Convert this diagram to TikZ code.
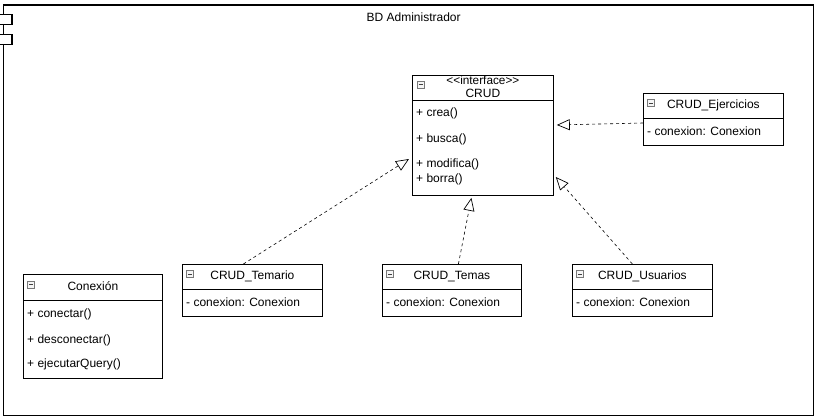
\documentclass[tikz,border=0pt]{standalone}
\usepackage{fontspec}
\setmainfont{Liberation Sans}
\usetikzlibrary{arrows.meta,positioning,calc}
\definecolor{iconogris}{RGB}{120,120,120}

\begin{document}
\begin{tikzpicture}[x=1pt,y=-1pt,
    font=\fontsize{12}{14}\selectfont,
    clase/.style={draw,line width=0.8pt,fill=white,anchor=north west,inner sep=0pt},
    icono/.style={draw=iconogris,line width=0.5pt,fill=black!4,minimum size=7pt,inner sep=0pt,
      path picture={\draw[black!75,line width=1pt]
        ([xshift=1.5pt]path picture bounding box.west) --
        ([xshift=-1.5pt]path picture bounding box.east);}},
    miembro/.style={anchor=west,inner sep=0pt},
    realiza/.style={draw,line width=0.6pt,dash pattern=on 3pt off 3pt,
      -{Triangle[open,length=13pt,width=11pt,line width=0.7pt,fill=white]}}]
  \useasboundingbox[fill=white] (0,0) rectangle (816,420);

  % Componente
  \node[draw,line width=1.2pt,minimum width=810pt,minimum height=410pt,
    anchor=north west,inner sep=0pt] (bd) at (3,4.5) {};
  \draw[line width=1.2pt,fill=white] (-1,14.5) rectangle (12,24.5);
  \draw[line width=1.2pt,fill=white] (-1,34.5) rectangle (12,44.5);
  \node (titulo) at ($(bd.north)+(5,12.5)$) {BD Administrador};

  % Interfaz CRUD
  \node[clase,minimum width=141pt,minimum height=120pt] (crud) at (412,75) {};
  \draw[line width=0.8pt] ($(crud.north west)+(0,25)$) -- ($(crud.north east)+(0,25)$);
  \node[icono] (icCrud) at ($(crud.north west)+(8.5,9.5)$) {};
  \node[inner sep=0pt,font=\fontsize{11.8}{12}\selectfont] (crudEst) at ($(crud.north)+(0,5.5)$)
    {<\kern0pt<interface>\kern0pt>};
  \node[inner sep=0pt] (crudNom) at ($(crud.north)+(0,18)$) {CRUD};
  \node[miembro] (crudCrea) at ($(crud.north west)+(4,38)$) {+ crea()};
  \node[miembro] (crudBusca) at ($(crud.north west)+(4,64)$) {+ busca()};
  \node[miembro] (crudModif) at ($(crud.north west)+(4,89)$) {+ modifica()};
  \node[miembro] (crudBorra) at ($(crud.north west)+(4,104)$) {+ borra()};

  % Clase Conexion
  \node[clase,minimum width=139pt,minimum height=104pt] (conex) at (23,274) {};
  \draw[line width=0.8pt] ($(conex.north west)+(0,26)$) -- ($(conex.north east)+(0,26)$);
  \node[icono] (icConex) at ($(conex.north west)+(8,10.5)$) {};
  \node[inner sep=0pt] (conexNom) at ($(conex.north)+(0,12.5)$) {Conexión};
  \node[miembro] (conexCon) at ($(conex.north west)+(4,40)$) {+ conectar()};
  \node[miembro] (conexDes) at ($(conex.north west)+(4,66)$) {+ desconectar()};
  \node[miembro] (conexEje) at ($(conex.north west)+(4,90)$) {+ ejecutarQuery()};

  % Implementaciones
  \foreach \nom/\txt/\px/\py/\an in {ejer/CRUD\_Ejercicios/643/93/140,
      temario/CRUD\_Temario/182/264/140,
      temas/CRUD\_Temas/382/264/139,
      usuarios/CRUD\_Usuarios/572/264/140}{
    \node[clase,minimum width=\an pt,minimum height=52pt] (\nom) at (\px,\py) {};
    \draw[line width=0.8pt] ($(\nom.north west)+(0,25.5)$) -- ($(\nom.north east)+(0,25.5)$);
    \node[icono] (ic\nom) at ($(\nom.north west)+(8,10)$) {};
    \node[inner sep=0pt] (\nom Nom) at ($(\nom.north)+(0,12.5)$) {\txt};
    \node[miembro] (\nom Atr) at ($(\nom.north west)+(4,38.5)$) {- conexion: Conexion};
  }

  % Realizaciones hacia la interfaz
  \coordinate (pEjer) at ($(crud.north east)+(3,50)$);
  \coordinate (pTemario) at ($(crud.north west)+(-3,84)$);
  \coordinate (pTemas) at ($(crud.south)+(-11.5,2)$);
  \coordinate (pUsuarios) at ($(crud.north east)+(2,102)$);
  \draw[realiza] ($(ejer.north west)+(0,30)$) -- (pEjer);
  \draw[realiza] ($(temario.north)+(-9,0)$) -- (pTemario);
  \draw[realiza] ($(temas.north)+(6.5,0)$) -- (pTemas);
  \draw[realiza] ($(usuarios.north)+(-10,0)$) -- (pUsuarios);
\end{tikzpicture}
\end{document}
